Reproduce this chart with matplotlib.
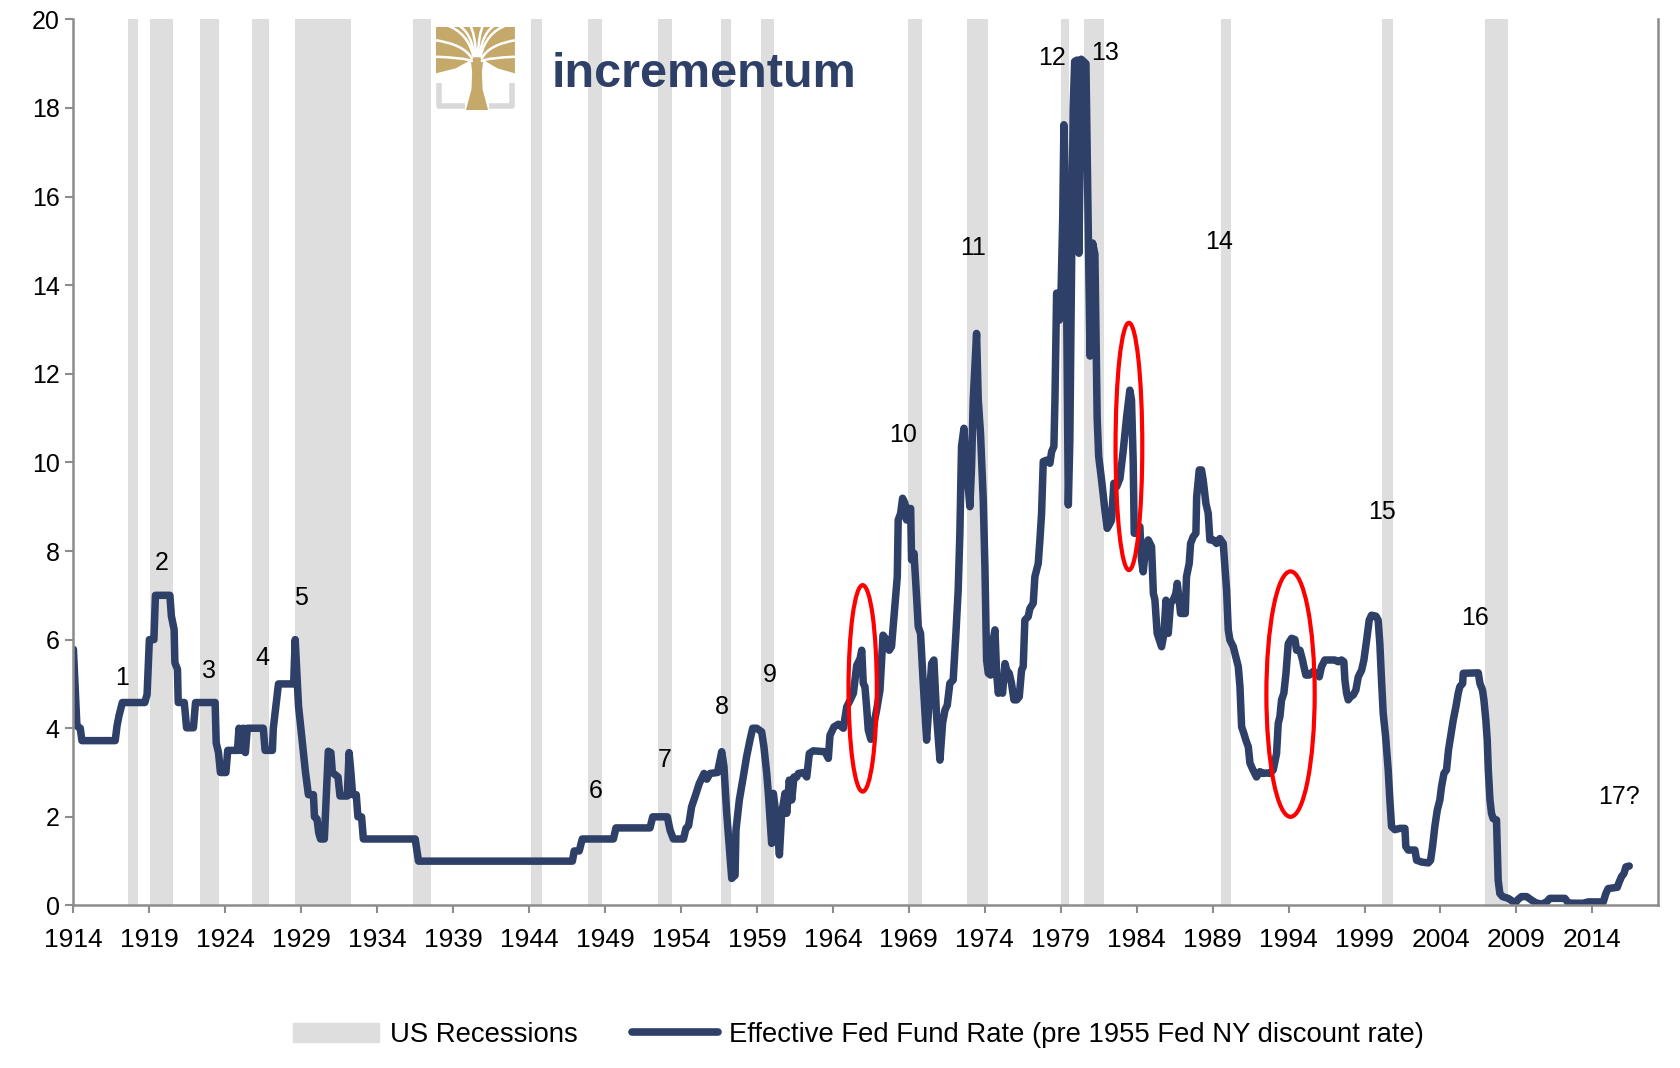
import matplotlib
matplotlib.use("Agg")
import matplotlib.pyplot as plt
import matplotlib.patches as mpatches
from matplotlib.lines import Line2D
from matplotlib.path import Path
import numpy as np

plt.rcParams["font.family"] = ["Liberation Sans", "DejaVu Sans"]

# ── data (x in chart years, as laid out on the reference axis)
rate_year = [
    1914.0, 1914.23, 1914.45, 1914.56, 1916.75, 1916.87, 1917.0, 1917.22, 1918.7, 1918.85,
    1919.0, 1919.3, 1919.4, 1920.35, 1920.45, 1920.63, 1920.68, 1920.85, 1920.9, 1921.3,
    1921.45, 1921.9, 1922.04, 1923.33, 1923.4, 1923.55, 1923.68, 1924.04, 1924.16, 1924.8,
    1924.9, 1925.03, 1925.2, 1925.32, 1925.45, 1926.5, 1926.62, 1927.1, 1927.16, 1927.33,
    1927.5, 1928.5, 1928.6, 1928.82, 1929.05, 1929.28, 1929.47, 1929.8, 1929.87, 1930.04,
    1930.15, 1930.27, 1930.52, 1930.78, 1930.95, 1931.05, 1931.42, 1931.55, 1932.03, 1932.15,
    1932.27, 1932.38, 1932.62, 1932.73, 1932.97, 1933.09, 1936.5, 1936.72, 1946.85, 1946.97,
    1947.3, 1947.5, 1949.55, 1949.72, 1951.96, 1952.14, 1953.1, 1953.28, 1953.5, 1954.16,
    1954.33, 1954.5, 1954.7, 1954.92, 1955.2, 1955.52, 1955.7, 1955.92, 1956.4, 1956.68,
    1956.83, 1957.01, 1957.23, 1957.34, 1957.56, 1957.62, 1957.84, 1958.1, 1958.32, 1958.54,
    1958.72, 1958.98, 1959.31, 1959.46, 1959.64, 1959.75, 1959.97, 1960.08, 1960.3, 1960.48,
    1960.63, 1960.85, 1960.96, 1961.13, 1961.29, 1961.44, 1961.62, 1961.73, 1962.06, 1962.28,
    1962.45, 1962.71, 1963.48, 1963.7, 1963.81, 1964.07, 1964.36, 1964.69, 1964.91, 1965.13,
    1965.35, 1965.57, 1965.79, 1965.9, 1966.0, 1966.11, 1966.22, 1966.33, 1966.5, 1966.66,
    1966.88, 1967.1, 1967.2, 1967.3, 1967.54, 1967.71, 1967.86, 1968.08, 1968.24, 1968.3,
    1968.46, 1968.59, 1968.74, 1968.85, 1968.96, 1969.12, 1969.18, 1969.34, 1969.51, 1969.62,
    1969.77, 1969.95, 1970.17, 1970.34, 1970.5, 1970.65, 1970.83, 1971.05, 1971.22, 1971.38,
    1971.53, 1971.7, 1971.92, 1972.1, 1972.25, 1972.36, 1972.47, 1972.63, 1972.76, 1972.85,
    1973.02, 1973.13, 1973.24, 1973.35, 1973.46, 1973.57, 1973.72, 1973.9, 1974.01, 1974.12,
    1974.23, 1974.38, 1974.51, 1974.67, 1974.78, 1974.89, 1975.04, 1975.17, 1975.33, 1975.44,
    1975.61, 1975.76, 1975.92, 1976.1, 1976.27, 1976.42, 1976.53, 1976.64, 1976.86, 1976.97,
    1977.19, 1977.3, 1977.52, 1977.63, 1977.74, 1977.85, 1978.07, 1978.29, 1978.4, 1978.55,
    1978.62, 1978.73, 1978.86, 1978.91, 1979.02, 1979.13, 1979.21, 1979.28, 1979.39, 1979.5,
    1979.6, 1979.7, 1979.82, 1979.92, 1980.08, 1980.2, 1980.35, 1980.66, 1980.82, 1980.93,
    1981.1, 1981.25, 1981.4, 1981.5, 1981.69, 1981.91, 1982.06, 1982.24, 1982.35, 1982.5,
    1982.68, 1982.9, 1983.12, 1983.34, 1983.55, 1983.66, 1983.77, 1983.84, 1984.0, 1984.21,
    1984.32, 1984.43, 1984.6, 1984.76, 1984.98, 1985.1, 1985.2, 1985.35, 1985.64, 1985.8,
    1985.93, 1986.08, 1986.23, 1986.4, 1986.58, 1986.67, 1986.8, 1986.89, 1987.2, 1987.28,
    1987.46, 1987.55, 1987.72, 1987.9, 1987.95, 1988.12, 1988.27, 1988.38, 1988.56, 1988.71,
    1988.82, 1989.04, 1989.26, 1989.48, 1989.7, 1989.81, 1989.92, 1990.03, 1990.14, 1990.36,
    1990.47, 1990.69, 1990.8, 1990.91, 1991.06, 1991.19, 1991.35, 1991.46, 1991.67, 1991.89,
    1992.11, 1992.33, 1992.55, 1992.77, 1992.99, 1993.21, 1993.32, 1993.43, 1993.54, 1993.69,
    1993.83, 1993.98, 1994.2, 1994.42, 1994.53, 1994.75, 1994.92, 1995.01, 1995.14, 1995.36,
    1995.62, 1995.84, 1996.02, 1996.17, 1996.39, 1996.83, 1997.05, 1997.27, 1997.49, 1997.64,
    1997.71, 1997.82, 1997.93, 1998.08, 1998.26, 1998.43, 1998.59, 1998.81, 1998.96, 1999.14,
    1999.31, 1999.46, 1999.75, 1999.9, 2000.01, 2000.12, 2000.23, 2000.39, 2000.56, 2000.67,
    2000.78, 2001.0, 2001.33, 2001.66, 2001.72, 2001.88, 2002.32, 2002.43, 2002.76, 2003.2,
    2003.35, 2003.48, 2003.63, 2003.79, 2003.96, 2004.07, 2004.23, 2004.4, 2004.53, 2004.67,
    2004.84, 2005.02, 2005.17, 2005.28, 2005.46, 2005.5, 2006.49, 2006.6, 2006.77, 2006.86,
    2006.99, 2007.08, 2007.15, 2007.26, 2007.36, 2007.47, 2007.69, 2007.74, 2007.8, 2007.91,
    2008.09, 2008.46, 2008.68, 2008.9, 2009.12, 2009.34, 2009.67, 2010.0, 2010.28, 2010.66,
    2010.99, 2011.2, 2012.19, 2012.41, 2012.74, 2013.4, 2013.73, 2014.72, 2014.89, 2015.04,
    2015.64, 2015.77, 2015.92, 2016.08, 2016.21, 2016.43,
]
rate_value = [
    5.78, 4.05, 4.0, 3.72, 3.72, 4.05, 4.28, 4.58, 4.58, 4.76,
    6.0, 6.0, 7.0, 7.0, 6.53, 6.23, 5.48, 5.33, 4.58, 4.58,
    4.01, 4.01, 4.58, 4.58, 3.67, 3.45, 3.0, 3.0, 3.5, 3.5,
    4.0, 3.5, 4.0, 3.45, 4.0, 4.0, 3.5, 3.5, 4.0, 4.5,
    5.0, 5.0, 6.0, 4.5, 3.75, 3.0, 2.5, 2.5, 2.0, 1.95,
    1.64, 1.5, 1.5, 3.48, 3.45, 3.0, 2.9, 2.47, 2.47, 3.45,
    3.0, 2.5, 2.5, 2.0, 2.0, 1.5, 1.5, 1.0, 1.0, 1.23,
    1.23, 1.5, 1.5, 1.75, 1.75, 2.0, 2.0, 1.7, 1.5, 1.5,
    1.74, 1.8, 2.23, 2.45, 2.75, 2.98, 2.85, 2.98, 3.0, 3.47,
    3.13, 2.08, 1.1, 0.61, 0.68, 1.7, 2.38, 2.9, 3.36, 3.73,
    4.0, 4.0, 3.92, 3.58, 3.0, 2.53, 1.4, 2.53, 1.93, 1.14,
    2.08, 2.53, 2.08, 2.83, 2.38, 2.9, 2.9, 2.98, 3.0, 2.9,
    3.43, 3.49, 3.47, 3.32, 3.84, 4.03, 4.09, 4.0, 4.48, 4.63,
    4.79, 5.42, 5.57, 5.76, 5.01, 4.94, 4.48, 3.96, 3.75, 4.03,
    4.41, 4.86, 5.46, 6.1, 5.99, 5.76, 5.84, 6.74, 7.42, 8.7,
    8.85, 9.19, 9.08, 8.7, 8.96, 8.96, 7.8, 7.95, 6.97, 6.29,
    6.14, 5.01, 3.73, 4.64, 5.46, 5.54, 4.26, 3.28, 4.11, 4.41,
    4.52, 5.01, 5.09, 6.14, 7.12, 8.4, 10.36, 10.77, 9.9, 9.68,
    9.0, 9.9, 11.41, 12.16, 12.91, 11.41, 10.65, 9.15, 7.64, 5.54,
    5.24, 5.2, 5.91, 6.22, 5.24, 4.79, 5.01, 4.79, 5.46, 5.31,
    5.24, 5.01, 4.64, 4.64, 4.71, 5.31, 5.39, 6.44, 6.52, 6.7,
    6.82, 7.42, 7.72, 8.25, 8.85, 10.02, 10.05, 9.98, 10.24, 10.36,
    11.41, 13.82, 13.75, 13.21, 13.82, 15.47, 17.62, 16.6, 13.59, 9.04,
    10.5, 14.0, 18.0, 19.05, 19.08, 14.72, 19.1, 19.0, 15.1, 12.4,
    14.95, 14.7, 11.0, 10.13, 9.6, 8.92, 8.51, 8.62, 8.7, 9.53,
    9.45, 9.64, 10.28, 11.03, 11.63, 11.41, 10.05, 8.4, 8.4, 8.55,
    7.8, 7.53, 8.1, 8.25, 8.1, 7.04, 6.9, 6.14, 5.84, 6.14,
    6.89, 6.14, 6.82, 6.89, 7.04, 7.27, 6.89, 6.59, 6.59, 7.42,
    7.72, 8.17, 8.32, 8.4, 9.22, 9.83, 9.83, 9.6, 9.07, 8.85,
    8.25, 8.25, 8.17, 8.28, 8.17, 7.64, 7.12, 6.22, 5.99, 5.84,
    5.69, 5.39, 4.94, 4.03, 3.88, 3.73, 3.58, 3.21, 3.05, 2.9,
    3.02, 2.98, 2.99, 2.98, 3.06, 3.43, 4.11, 4.26, 4.64, 4.79,
    5.24, 5.91, 6.03, 6.0, 5.76, 5.76, 5.54, 5.39, 5.2, 5.2,
    5.28, 5.24, 5.16, 5.39, 5.54, 5.54, 5.54, 5.5, 5.54, 5.5,
    5.09, 4.79, 4.64, 4.71, 4.75, 4.86, 5.16, 5.31, 5.54, 5.99,
    6.44, 6.55, 6.53, 6.44, 5.91, 5.09, 4.34, 3.81, 3.06, 2.38,
    1.78, 1.71, 1.74, 1.74, 1.33, 1.25, 1.25, 1.02, 0.98, 0.96,
    1.02, 1.33, 1.78, 2.15, 2.38, 2.68, 2.98, 3.06, 3.51, 3.81,
    4.18, 4.49, 4.79, 4.94, 5.01, 5.24, 5.25, 5.01, 4.86, 4.64,
    4.18, 3.73, 3.06, 2.38, 2.08, 1.96, 1.93, 1.33, 0.57, 0.27,
    0.2, 0.16, 0.11, 0.05, 0.14, 0.2, 0.2, 0.12, 0.06, 0.03,
    0.08, 0.16, 0.16, 0.06, 0.05, 0.05, 0.08, 0.08, 0.27, 0.38,
    0.41, 0.53, 0.65, 0.72, 0.87, 0.89,
]

recession_start = [1917.57, 1919.03, 1922.36, 1925.78, 1928.61, 1936.37, 1944.14, 1947.88,
                   1952.51, 1956.62, 1959.28, 1968.94, 1972.84, 1979.05, 1980.55, 1989.52,
                   2000.18, 2006.96]
recession_end = [1918.23, 1920.58, 1923.56, 1926.9, 1932.26, 1937.51, 1944.83, 1948.83,
                 1953.38, 1957.32, 1960.12, 1969.87, 1974.2, 1979.52, 1981.84, 1990.22,
                 2000.86, 2008.44]

# cycle labels: text, x, y (chart units)
cycle_labels = ["1", "2", "3", "4", "5", "6", "7", "8", "9", "10",
                "11", "12", "13", "14", "15", "16", "17?"]
cycle_x = [1917.22, 1919.81, 1922.91, 1926.44, 1928.97, 1948.4, 1952.95, 1956.68, 1959.86, 1968.63,
           1973.22, 1978.4, 1981.91, 1989.44, 2000.12, 2006.27, 2015.77]
cycle_y = [5.14, 7.74, 5.29, 5.59, 6.93, 2.58, 3.28, 4.48, 5.2, 10.62,
           14.85, 19.12, 19.23, 14.97, 8.87, 6.48, 2.45]

# red ellipses: centre x, centre y, half width (years), half height (pct)
ellipse_x = [1965.96, 1983.49, 1994.13]
ellipse_y = [4.9, 10.36, 4.77]
ellipse_hw = [0.93, 0.88, 1.59]
ellipse_hh = [2.33, 2.79, 2.77]

NAVY = "#2E4068"
GOLD = "#C4A96B"
BAND = "#DEDEDE"
AXIS = "#8C8C8C"


def draw_logo(fig):
    # tree icon, rough: gold crown cut by thin white gaps
    ax = fig.add_axes([0.2595, 0.897, 0.047, 0.078])
    ax.set_xlim(0, 1)
    ax.set_ylim(0, 1)
    ax.axis("off")
    ax.plot([0.04, 0.04, 0.37], [0.32, 0.05, 0.05], color="#D9D9D9", lw=4, solid_capstyle="butt")
    ax.plot([0.67, 0.96, 0.96], [0.05, 0.05, 0.32], color="#D9D9D9", lw=4, solid_capstyle="butt")
    trunk = [(0.38, 0.0), (0.66, 0.0), (0.59, 0.25), (0.58, 0.5), (0.46, 0.5), (0.45, 0.25)]
    ax.add_patch(mpatches.Polygon(trunk, closed=True, color=GOLD, lw=0))
    crown = [(0.0, 0.44), (0.25, 0.5), (0.44, 0.6), (0.46, 0.45), (0.58, 0.45), (0.6, 0.6),
             (0.78, 0.5), (1.0, 0.44), (1.0, 1.0), (0.0, 1.0)]
    ax.add_patch(mpatches.Polygon(crown, closed=True, color=GOLD, lw=0))
    gap_ends = [(-0.02, 0.64), (-0.02, 0.84), (0.13, 1.02), (0.28, 1.02), (0.43, 1.02),
                (0.6, 1.02), (0.75, 1.02), (0.9, 1.02), (1.02, 0.84), (1.02, 0.64)]
    for ex, ey in gap_ends:
        sx = 0.52 + (ex - 0.52) * 0.12
        sy = 0.58 + (ey - 0.58) * 0.15
        cx = 0.52 + (ex - 0.52) * 0.3
        cy = 0.58 + (ey - 0.58) * 0.8
        path = Path([(sx, sy), (cx, cy), (ex, ey)], [Path.MOVETO, Path.CURVE3, Path.CURVE3])
        ax.add_patch(mpatches.PathPatch(path, fill=False, edgecolor="white", lw=1.8,
                                        capstyle="round"))
    fig.text(0.3285, 0.9188, "incrementum", color=NAVY, fontsize=35, fontweight="bold",
             ha="left", va="baseline")


def main():
    fig = plt.figure(figsize=(16.8, 10.68), dpi=100)
    ax = fig.add_axes([0.0437, 0.1522, 0.943, 0.8297])

    for s, e in zip(recession_start, recession_end):
        ax.axvspan(s, e, color=BAND, lw=0, zorder=0)

    ax.plot(rate_year, rate_value, color=NAVY, lw=5.4, solid_joinstyle="round",
            solid_capstyle="round", zorder=2)

    for x, y, hw, hh in zip(ellipse_x, ellipse_y, ellipse_hw, ellipse_hh):
        ax.add_patch(mpatches.Ellipse((x, y), 2 * hw, 2 * hh, fill=False,
                                      edgecolor="#FF0000", lw=3, zorder=3))

    for t, x, y in zip(cycle_labels, cycle_x, cycle_y):
        ax.text(x, y, t, fontsize=18, ha="center", va="center", color="black", zorder=4)

    ax.set_xlim(1914, 2018.3)
    ax.set_ylim(0, 20)
    ax.set_xticks(np.arange(1914, 2015, 5))
    ax.set_yticks(np.arange(0, 21, 2))
    ax.tick_params(axis="x", labelsize=19, length=6, width=1.5, color=AXIS, pad=10)
    ax.tick_params(axis="y", labelsize=18, length=6, width=1.5, color=AXIS, pad=4)
    for side in ["left", "bottom", "right"]:
        ax.spines[side].set_color(AXIS)
        ax.spines[side].set_linewidth(1.8)
    ax.spines["top"].set_visible(False)

    handles = [
        mpatches.Patch(color=BAND, label="US Recessions"),
        Line2D([0], [0], color=NAVY, lw=5.5, solid_capstyle="round",
               label="Effective Fed Fund Rate (pre 1955 Fed NY discount rate)"),
    ]
    fig.legend(handles=handles, loc="center", bbox_to_anchor=(0.511, 0.031), ncol=2,
               frameon=False, fontsize=19.8, handlelength=3.1, handletextpad=0.4,
               columnspacing=2.0)

    draw_logo(fig)

    fig.savefig("out.png", dpi=100)
    plt.close(fig)


if __name__ == "__main__":
    main()
